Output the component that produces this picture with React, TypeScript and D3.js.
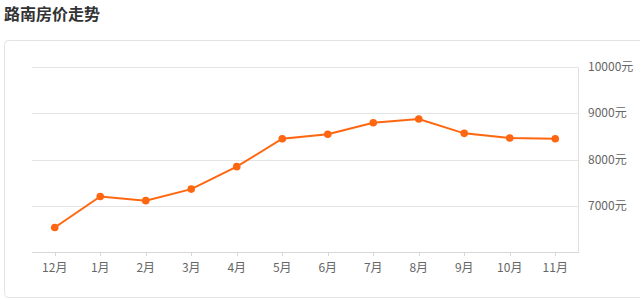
import React from "react";
import * as d3 from "d3";

const months = ["12月", "1月", "2月", "3月", "4月", "5月", "6月", "7月", "8月", "9月", "10月", "11月"];
const prices = [6530, 7200, 7110, 7360, 7845, 8450, 8545, 8795, 8875, 8565, 8465, 8450];
const yTicks = [7000, 8000, 9000, 10000];
const title = "路南房价走势";

const W = 640;
const H = 305;
const FONT = "'Noto Sans CJK SC', 'Microsoft YaHei', sans-serif";

export default function App() {
  const left = 32;
  const right = 578;
  const top = 67;
  const bottom = 252;

  const x = d3.scaleBand<string>().domain(months).range([left, right]);
  const y = d3.scaleLinear().domain([6000, 10000]).range([bottom, top]);
  const cx = (m: string) => (x(m) as number) + x.bandwidth() / 2;

  const line = d3
    .line<number>()
    .x((_, i) => cx(months[i]))
    .y((d) => y(d));

  return (
    <svg
      width={W}
      height={H}
      style={{ position: "absolute", left: 0, top: 0, background: "#fff" }}
      fontFamily={FONT}
    >
      <text x={4} y={20} fontSize={16} fontWeight="bold" fill="#333">
        {title}
      </text>
      <rect x={4.5} y={40.5} width={660} height={257} rx={4} fill="#fff" stroke="#e3e3e3" />
      {yTicks.map((t) => (
        <line key={t} x1={left} x2={right} y1={Math.round(y(t)) + 0.5} y2={Math.round(y(t)) + 0.5} stroke="#e4e4e4" />
      ))}
      <line x1={right + 0.5} x2={right + 0.5} y1={Math.round(y(10000)) + 0.5} y2={bottom + 0.5} stroke="#e0e0e0" />
      <line x1={left} x2={right + 1} y1={bottom + 0.5} y2={bottom + 0.5} stroke="#d8d8d8" />
      {months.map((m) => (
        <g key={m}>
          <line x1={Math.round(cx(m)) + 0.5} x2={Math.round(cx(m)) + 0.5} y1={bottom} y2={bottom + 4} stroke="#d8d8d8" />
          <text x={cx(m)} y={272} fontSize={12} fill="#666" textAnchor="middle">
            {m}
          </text>
        </g>
      ))}
      {yTicks.map((t) => (
        <text key={t} x={588} y={y(t) + 4} fontSize={12} fill="#666">
          {t + "元"}
        </text>
      ))}
      <path d={line(prices) || ""} fill="none" stroke="#ff6610" strokeWidth={2} />
      {prices.map((p, i) => (
        <circle key={i} cx={cx(months[i])} cy={y(p)} r={3.8} fill="#ff6610" />
      ))}
    </svg>
  );
}
